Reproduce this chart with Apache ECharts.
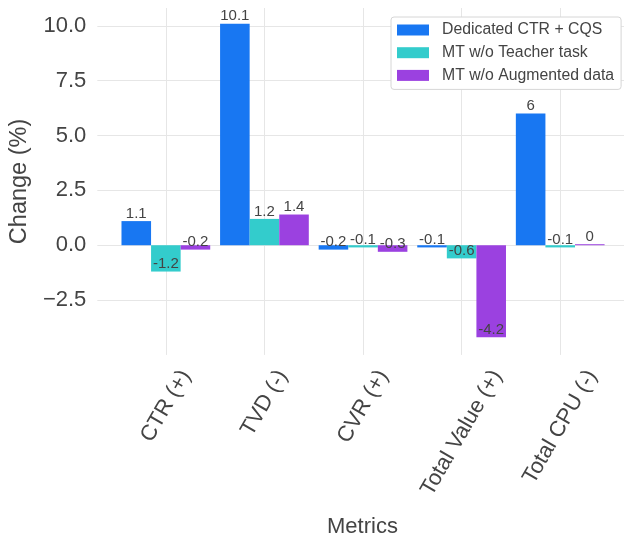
<!DOCTYPE html>
<html>
<head>
<meta charset="utf-8">
<script src="https://cdn.jsdelivr.net/npm/echarts@6/dist/echarts.min.js"></script>
<style>html,body{margin:0;padding:0;background:#fff}#c{width:624px;height:539px}</style>
</head>
<body>
<div id="c"></div>
<script>
const categories = ['CTR (+)', 'TVD (-)', 'CVR (+)', 'Total Value (+)', 'Total CPU (-)'];
const seriesNames = ['Dedicated CTR + CQS', 'MT w/o Teacher task', 'MT w/o Augmented data'];
const dedicated = [1.1, 10.1, -0.2, -0.1, 6];
const noTeacher = [-1.2, 1.2, -0.1, -0.6, -0.1];
const noAugment = [-0.2, 1.4, -0.3, -4.2, 0];
const colors = ['#1877F2', '#33CCCC', '#9B41E0'];
const yTickStep = 2.5;

const FONT = "'Liberation Sans', Arial, sans-serif";
const TXT = '#444';
const xMin = -0.695, xMax = 4.647;
const yMin = -5, yMax = 10.815;
const XLAB_SIZE = 22;

function fmtTick(v) {
  const s = Math.abs(v).toFixed(1);
  return v < 0 ? '\u2212' + s : s;
}

// Rotated (60deg) category labels whose rotated box is centred on the tick
// and whose top is aligned: shift each label by an amount depending on its width.
const measureCtx = document.createElement('canvas').getContext('2d');
measureCtx.font = XLAB_SIZE + 'px ' + FONT;
const xRich = {};
categories.forEach((c, i) => {
  const L = measureCtx.measureText(c).width;
  xRich['c' + i] = {
    fontSize: XLAB_SIZE, color: TXT, fontFamily: FONT,
    padding: [0.433 * L, 0.75 * L, 0, 0]
  };
});

function mkSeries(name, vals, color) {
  return {
    name: name,
    type: 'bar',
    barGap: '0%',
    barCategoryGap: '10%',
    barMinHeight: 1,
    itemStyle: { color: color },
    label: {
      show: true, distance: 0, fontSize: 15, color: TXT, fontFamily: FONT,
      formatter: p => String(p.value[1])
    },
    data: vals.map((v, i) => ({
      value: [i, v],
      label: { position: v < 0 ? 'insideBottom' : 'top' }
    }))
  };
}

const chart = echarts.init(document.getElementById('c'), null, { renderer: 'canvas' });
chart.setOption({
  animation: false,
  backgroundColor: '#fff',
  textStyle: { fontFamily: FONT },
  title: {
    text: 'Metrics', left: 327, top: 516, padding: 0,
    textStyle: { fontSize: 22, fontWeight: 'normal', color: TXT, fontFamily: FONT }
  },
  legend: {
    orient: 'vertical', left: 391, top: 17,
    padding: [5, 7, 6, 6], itemGap: 6.7, itemWidth: 32, itemHeight: 11,
    icon: 'rect',
    backgroundColor: '#fff', borderColor: '#d6d6d6', borderWidth: 1, borderRadius: 3,
    textStyle: { fontSize: 15.8, color: TXT, fontFamily: FONT, padding: [0, 0, 0, 8] },
    data: seriesNames
  },
  grid: { left: 96.7, right: 0, top: 8, bottom: 184.1, containLabel: false },
  xAxis: {
    type: 'value', min: xMin, max: xMax,
    axisLine: { show: false }, axisTick: { show: false },
    splitLine: { show: true, showMinLine: false, showMaxLine: false, lineStyle: { color: '#e6e6e6', width: 1 } },
    axisLabel: {
      rotate: 60, margin: 17, fontSize: XLAB_SIZE, color: TXT, fontFamily: FONT,
      align: 'center', verticalAlign: 'middle',
      showMinLabel: false, showMaxLabel: false,
      rich: xRich,
      formatter: v => (Number.isInteger(v) && categories[v] !== undefined) ? '{c' + v + '|' + categories[v] + '}' : ''
    }
  },
  yAxis: {
    type: 'value', min: yMin, max: yMax, interval: yTickStep,
    name: 'Change (%)', nameLocation: 'middle', nameGap: 61,
    nameTextStyle: { fontSize: 23.5, color: TXT, fontFamily: FONT },
    axisLine: { show: false }, axisTick: { show: false },
    splitLine: { show: true, showMinLine: false, showMaxLine: false, lineStyle: { color: '#e6e6e6', width: 1 } },
    axisLabel: {
      margin: 11, fontSize: 22, color: TXT, fontFamily: FONT,
      showMinLabel: false, showMaxLabel: false,
      formatter: fmtTick
    }
  },
  series: [
    mkSeries(seriesNames[0], dedicated, colors[0]),
    mkSeries(seriesNames[1], noTeacher, colors[1]),
    mkSeries(seriesNames[2], noAugment, colors[2])
  ]
});
</script>
</body>
</html>
